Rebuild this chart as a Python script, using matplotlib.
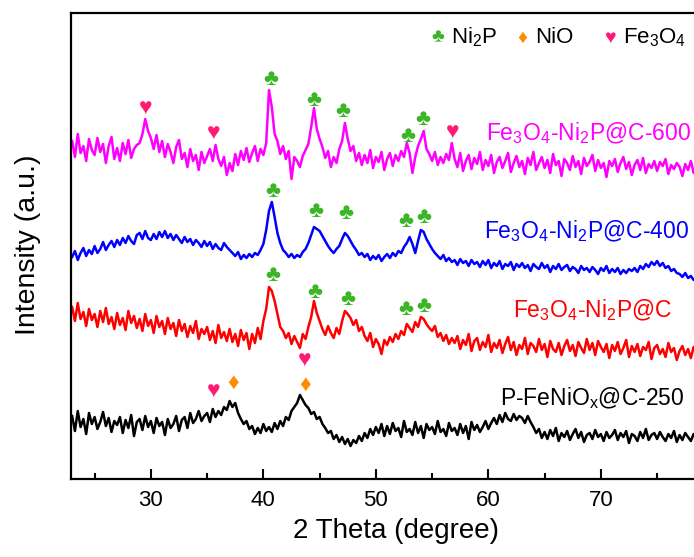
import numpy as np
import matplotlib
matplotlib.use("Agg")
import matplotlib.pyplot as plt
from matplotlib.ticker import MultipleLocator

plt.rcParams["font.family"] = ["Liberation Sans", "DejaVu Sans"]
plt.rcParams["mathtext.fontset"] = "custom"
plt.rcParams["mathtext.rm"] = "Liberation Sans"
plt.rcParams["mathtext.it"] = "Liberation Sans"

# 2-theta grid, 0.25 degree steps from 23 to 79
two_theta = np.arange(225) * 0.25 + 23.0

# intensities (a.u., curves already offset)
c600 = [
    338, 322, 345, 326, 333, 318, 340, 329,
    324, 341, 327, 335, 316, 333, 342, 320,
    331, 318, 336, 325, 339, 321, 330, 334,
    336, 345, 360, 348, 341, 330, 344, 327,
    338, 322, 335, 327, 316, 332, 339, 320,
    326, 312, 330, 318, 324, 309, 327, 316,
    323, 330, 318, 334, 320, 313, 322, 304,
    316, 308, 325, 314, 328, 319, 331, 317,
    326, 333, 318, 330, 324, 336, 389, 372,
    345, 338, 325, 333, 320, 328, 300, 322,
    318, 312, 323, 329, 335, 352, 371, 350,
    340, 332, 321, 328, 312, 322, 316, 330,
    338, 356, 340, 328, 333, 318, 326, 314,
    324, 316, 329, 311, 322, 317, 327, 309,
    320, 326, 313, 324, 318, 328, 322, 336,
    326, 306, 322, 333, 340, 348, 330, 325,
    318, 327, 314, 322, 316, 325, 319, 336,
    320, 312, 326, 308, 318, 324, 310, 321,
    315, 327, 309, 319, 313, 324, 306, 317,
    322, 311, 318, 326, 307, 316, 323, 312,
    318, 305, 321, 314, 327, 309, 316, 322,
    311, 319, 306, 325, 314, 318, 303, 320,
    316, 309, 323, 312, 318, 305, 321, 313,
    317, 324, 308, 319, 311, 316, 302, 318,
    313, 320, 307, 316, 322, 310, 317, 304,
    314, 319, 309, 321, 306, 315, 311, 318,
    308, 317, 313, 320, 305, 314, 310, 316,
    312, 303, 315, 309, 318, 306, 313, 310,
    311,
]
c400 = [
    222, 228, 219, 226, 231, 223, 229, 225,
    233, 226, 230, 237, 229, 234, 238, 232,
    239, 234, 241, 236, 243, 238, 235, 244,
    246, 240, 248, 241, 239, 245, 240, 247,
    242, 248, 241, 245, 239, 244, 240, 236,
    242, 237, 240, 234, 239, 236, 232, 238,
    233, 237, 230, 235, 231, 229, 236, 232,
    229, 226, 223, 227, 220, 224, 221, 225,
    222, 226, 224, 229, 235, 249, 268, 277,
    262, 246, 236, 229, 226, 222, 225, 221,
    224, 222, 227, 230, 236, 244, 252, 250,
    248, 243, 238, 233, 229, 226, 230, 233,
    240, 246, 243, 238, 233, 229, 224, 226,
    222, 225, 219, 223, 220, 224, 218, 222,
    225, 221, 226, 223, 228, 226, 232, 236,
    242, 235, 226, 238, 249, 247, 240, 235,
    230, 226, 223, 220, 224, 218, 221, 217,
    219, 214, 220, 216, 218, 213, 219, 215,
    217, 212, 218, 214, 219, 211, 216, 213,
    218, 210, 215, 213, 217, 209, 215, 212,
    216, 211, 214, 208, 215, 212, 210, 216,
    211, 214, 207, 213, 210, 215, 209, 212,
    214, 208, 212, 210, 206, 213, 209, 211,
    207, 212, 209, 205, 211, 208, 213, 206,
    210, 207, 211, 205, 209, 206, 210, 208,
    211, 207, 213, 210, 215, 212, 217, 214,
    218, 213, 216, 211, 213, 208, 210, 206,
    205, 202, 206, 201, 203, 199, 202, 198,
    199,
]
c_plain = [
    172, 158, 176, 160, 167, 153, 170, 159,
    165, 152, 168, 157, 171, 155, 162, 150,
    166, 154, 161, 149, 168, 156, 163, 151,
    160, 148, 165, 153, 159, 146, 163, 152,
    158, 145, 161, 150, 156, 143, 159, 148,
    155, 142, 153, 146, 158, 140, 150, 145,
    152, 139, 148, 136, 154, 141, 147, 138,
    150, 137, 145, 133, 149, 139, 146, 130,
    145, 136, 151, 140, 158, 170, 192, 188,
    178, 165, 152, 148, 141, 146, 135, 143,
    137, 131, 145, 140, 152, 162, 178, 166,
    158, 150, 144, 153, 146, 141, 151, 145,
    158, 168, 165, 161, 154, 159, 148, 152,
    143, 138, 146, 132, 140, 135, 125, 139,
    134, 142, 137, 145, 140, 148, 144, 155,
    151, 147, 157, 152, 162, 160, 155, 151,
    148, 153, 142, 146, 138, 144, 135, 141,
    136, 143, 130, 139, 134, 145, 128, 138,
    141, 129, 137, 132, 144, 127, 136, 131,
    139, 126, 135, 142, 129, 137, 124, 134,
    130, 141, 125, 136, 133, 127, 140, 129,
    135, 122, 138, 130, 127, 136, 124, 133,
    139, 128, 134, 123, 137, 131, 126, 140,
    129, 136, 124, 138, 132, 127, 135, 121,
    134, 128, 137, 125, 131, 139, 122, 133,
    127, 135, 123, 132, 129, 137, 120, 131,
    134, 125, 130, 122, 136, 127, 131, 119,
    128, 133, 124, 130, 121, 132, 126, 129,
    127,
]
c250 = [
    63, 48, 68, 52, 60, 45, 66, 55,
    62, 50, 57, 67, 53, 61, 47, 58,
    54, 62, 46, 59, 51, 64, 43, 57,
    60, 49, 63, 52, 58, 46, 61, 53,
    57, 44, 60, 51, 55, 63, 48, 59,
    62, 51, 66, 56, 60, 68, 58, 63,
    66, 57, 70, 62, 68, 64, 72, 69,
    78, 72, 76, 66, 60, 55, 58, 50,
    53, 45, 51, 46, 55, 48, 52, 47,
    56, 50, 58, 53, 62, 59, 68, 72,
    76, 84, 79, 74, 71, 65, 67, 60,
    62, 55, 51, 46, 48, 40, 44, 37,
    42, 35, 40, 33, 39, 36, 43, 38,
    46, 41, 50, 44, 52, 46, 55, 43,
    53, 45, 56, 48, 51, 42, 58, 47,
    50, 44, 57, 46, 53, 41, 55, 49,
    52, 45, 58, 47, 50, 43, 56, 48,
    51, 44, 55, 46, 53, 40, 57, 49,
    54, 47, 52, 58, 50, 56, 61, 55,
    64, 57, 66, 60, 58, 65, 59, 63,
    61, 56, 63, 57, 52, 46, 50, 41,
    47, 40, 49, 43, 51, 38, 46, 42,
    48, 39, 45, 50, 41, 47, 37, 44,
    46, 40, 49, 42, 45, 38, 47, 41,
    44, 49, 39, 46, 42, 48, 36, 45,
    43, 38, 47, 41, 50, 39, 44, 46,
    40, 47, 42, 38, 45, 41, 48, 37,
    44, 39, 46, 42, 38, 45, 40, 43,
    41,
]

series_labels = [
    r"Fe$_3$O$_4$-Ni$_2$P@C-600",
    r"Fe$_3$O$_4$-Ni$_2$P@C-400",
    r"Fe$_3$O$_4$-Ni$_2$P@C",
    r"P-FeNiO$_x$@C-250",
]
series_colors = ["#ff00ff", "#0000ff", "#ff0000", "#000000"]
label_pos = [(59.8, 339), (59.6, 241), (62.2, 162), (61.0, 74)]

# phase markers: (2theta, height, phase)
marks = [
    (29.5, 371, "Fe3O4"), (35.6, 346, "Fe3O4"), (40.7, 401, "Ni2P"),
    (44.5, 380, "Ni2P"), (47.1, 369, "Ni2P"), (52.8, 344, "Ni2P"),
    (54.2, 361, "Ni2P"), (56.8, 347, "Fe3O4"),
    (40.8, 289, "Ni2P"), (44.7, 269, "Ni2P"), (47.3, 267, "Ni2P"),
    (52.7, 259, "Ni2P"), (54.3, 263, "Ni2P"),
    (40.8, 205, "Ni2P"), (44.6, 188, "Ni2P"), (47.5, 181, "Ni2P"),
    (52.7, 171, "Ni2P"), (54.3, 174, "Ni2P"),
    (35.6, 88, "Fe3O4"), (37.3, 96, "NiO"), (43.7, 119, "Fe3O4"),
    (43.7, 94, "NiO"),
]
phase_symbol = {"Ni2P": "\u2663", "NiO": "\u2666", "Fe3O4": "\u2665"}
phase_color = {"Ni2P": "#3cb526", "NiO": "#ff8c00", "Fe3O4": "#ff1a75"}
phase_label = {"Ni2P": r"Ni$_2$P", "NiO": "NiO", "Fe3O4": r"Fe$_3$O$_4$"}
legend_pos = {"Ni2P": 55.5, "NiO": 63.0, "Fe3O4": 70.8}

fig = plt.figure(figsize=(6.94, 5.57), dpi=100)
ax = fig.add_axes([71 / 694, 78 / 557, 641 / 694, 466 / 557])

for y, col, lab, (lx, ly) in zip([c600, c400, c_plain, c250], series_colors,
                                 series_labels, label_pos):
    ax.plot(two_theta, y, color=col, lw=1.8)
    ax.text(lx, ly, lab, color=col, fontsize=16.5, ha="left", va="baseline")

for x, h, ph in marks:
    ax.text(x, h, phase_symbol[ph], color=phase_color[ph], fontsize=16.5,
            ha="center", va="center")

for ph, lx in legend_pos.items():
    ax.text(lx, 441, phase_symbol[ph], color=phase_color[ph], fontsize=14,
            ha="center", va="center")
    ax.text(lx + 1.2, 436, phase_label[ph], color="black", fontsize=16,
            ha="left", va="baseline")

ax.set_xlim(22.9, 79.88)
ax.set_ylim(0, 466)
ax.set_yticks([])
ax.xaxis.set_major_locator(MultipleLocator(10))
ax.xaxis.set_minor_locator(MultipleLocator(5))
ax.tick_params(axis="x", which="both", direction="in", top=False,
               labelsize=16, pad=8, width=1.5)
ax.tick_params(axis="x", which="major", length=7)
ax.tick_params(axis="x", which="minor", length=4)
for s in ax.spines.values():
    s.set_linewidth(1.6)

fig.text(396 / 694, 1 - 531 / 557, "2 Theta (degree)", fontsize=20,
         ha="center", va="center")
fig.text(28 / 694, 1 - 245 / 557, "Intensity (a.u.)", fontsize=20.5,
         ha="center", va="center", rotation=90)

fig.savefig("out.png", dpi=100)
